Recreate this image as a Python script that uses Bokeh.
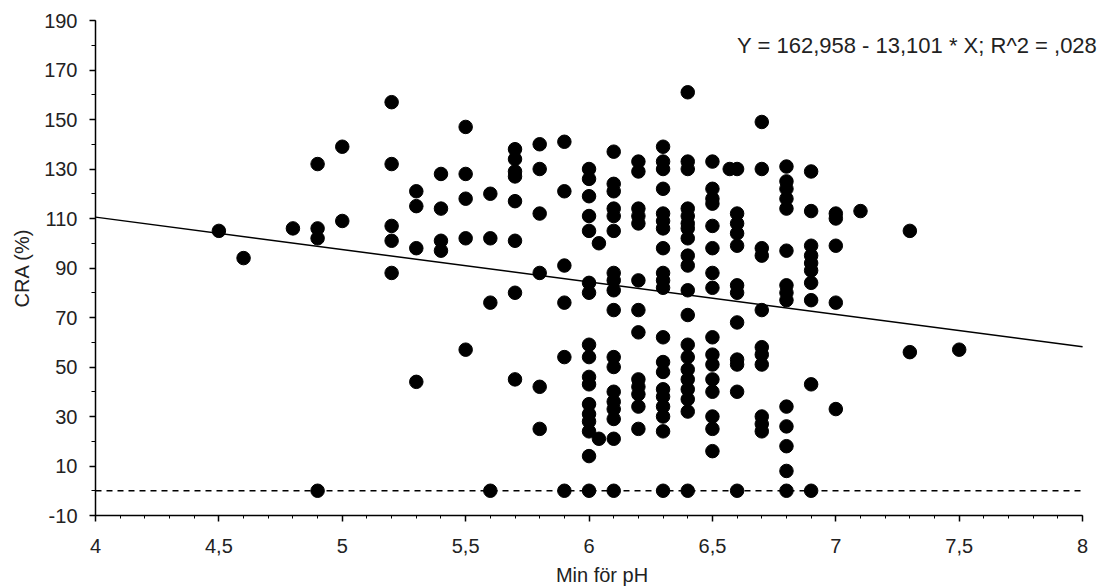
from bokeh.plotting import figure
from bokeh.models import Range1d, FixedTicker, CustomJSTickFormatter, Label, ColumnDataSource
from bokeh.embed import file_html
from bokeh.resources import INLINE

# Minimum pH per sample (x) and CRA in percent (y), grouped by pH level
ph_levels = [4.5, 4.6, 4.8, 4.9, 5.0, 5.2, 5.3, 5.4, 5.5, 5.6, 5.7, 5.8, 5.9,
             6.0, 6.04, 6.1, 6.2, 6.3, 6.4, 6.5, 6.57, 6.6, 6.7, 6.8, 6.9,
             7.0, 7.1, 7.3, 7.5]

cra_at_level = [
    [105],
    [94],
    [106],
    [132, 106, 102, 0],
    [139, 109],
    [157, 132, 107, 101, 88],
    [121, 115, 98, 44],
    [128, 114, 101, 97],
    [147, 128, 118, 102, 57],
    [120, 102, 76, 0],
    [138, 134, 129, 127, 117, 101, 80, 45],
    [140, 130, 112, 88, 42, 25],
    [141, 121, 91, 76, 54, 0],
    [130, 126, 119, 111, 105, 84, 80, 59, 54, 46, 43, 35, 31, 28, 24, 14, 0],
    [100, 21],
    [137, 124, 121, 114, 111, 105, 88, 85, 81, 73, 54, 50, 40, 36, 33, 29, 21, 0],
    [133, 129, 114, 111, 108, 85, 73, 64, 45, 42, 39, 34, 25],
    [139, 133, 130, 122, 112, 109, 106, 98, 88, 85, 82, 62, 52, 48, 41, 38, 34, 30, 24, 0],
    [161, 133, 130, 114, 111, 108, 106, 102, 95, 91, 81, 71, 59, 54, 49, 45, 41, 37, 32, 0],
    [133, 122, 118, 116, 107, 98, 88, 82, 62, 55, 51, 45, 40, 30, 25, 16],
    [130],
    [130, 112, 108, 104, 99, 83, 80, 68, 53, 51, 40, 0],
    [149, 130, 98, 95, 73, 58, 55, 51, 30, 27, 24],
    [131, 125, 122, 118, 114, 97, 83, 80, 77, 34, 26, 18, 8, 0],
    [129, 113, 99, 95, 92, 89, 84, 77, 43, 0],
    [112, 110, 99, 76, 33],
    [113],
    [105, 56],
    [57],
]

# Linear fit reported for the data
intercept = 162.958
slope = -13.101
r_squared = 0.028

zero_level = 0

x_ticks = [4, 4.5, 5, 5.5, 6, 6.5, 7, 7.5, 8]
y_ticks = [-10, 10, 30, 50, 70, 90, 110, 130, 150, 170, 190]

FONT = "Liberation Sans"
TEXT = "#222222"

ph = []
cra = []
for level, values in zip(ph_levels, cra_at_level):
    for v in values:
        ph.append(level)
        cra.append(v)

source = ColumnDataSource(data=dict(ph=ph, cra=cra))

# a little room past pH 8 keeps the equation text inside the frame
p = figure(width=1108, height=588,
           x_range=Range1d(4, 8.105), y_range=Range1d(-10, 190),
           output_backend="svg", toolbar_location=None,
           min_border_left=95, min_border_right=0,
           min_border_top=20, min_border_bottom=71)
p.outline_line_color = None
p.grid.visible = False
p.background_fill_color = "white"
p.border_fill_color = "white"

# reference line at zero
p.line(x=[4, 8], y=[zero_level, zero_level], line_color="black",
       line_width=1.5, line_dash="6 5")

# fitted regression line
fit_x = [4, 8]
fit_y = [intercept + slope * xv for xv in fit_x]
p.line(x=fit_x, y=fit_y, line_color="black", line_width=1.5)

p.scatter(x="ph", y="cra", source=source, marker="circle", size=13.5,
          fill_color="black", line_color="black")

# axes
minor_x = [round(4 + i * 0.1, 1) for i in range(41)]
minor_y = list(range(-10, 191, 10))
p.xaxis.ticker = FixedTicker(ticks=x_ticks, minor_ticks=minor_x)
p.yaxis.ticker = FixedTicker(ticks=y_ticks, minor_ticks=minor_y)
p.xaxis.bounds = (4, 8)
p.xaxis.formatter = CustomJSTickFormatter(code="return tick.toString().replace('.', ',');")
p.yaxis.formatter = CustomJSTickFormatter(code="return tick.toFixed(0);")

for ax in (p.xaxis[0], p.yaxis[0]):
    ax.axis_line_color = "black"
    ax.axis_line_width = 1.5
    ax.major_tick_line_color = "black"
    ax.major_tick_line_width = 1.5
    ax.minor_tick_line_color = "black"
    ax.minor_tick_line_width = 1
    ax.major_tick_in = 0
    ax.minor_tick_in = 0
    ax.major_label_text_font = FONT
    ax.major_label_text_font_size = "20px"
    ax.major_label_text_color = TEXT
    ax.axis_label_text_font = FONT
    ax.axis_label_text_font_size = "20px"
    ax.axis_label_text_font_style = "normal"
    ax.axis_label_text_color = TEXT

p.xaxis.major_tick_out = 6
p.xaxis.minor_tick_out = 3
p.yaxis.major_tick_out = 6
p.yaxis.minor_tick_out = 4
p.xaxis.major_label_standoff = 17
p.yaxis.major_label_standoff = 12
p.xaxis.axis_label = "Min för pH"
p.yaxis.axis_label = "CRA (%)"
p.xaxis.axis_label_standoff = 8
p.yaxis.axis_label_standoff = 8

r2_text = f"{r_squared:.3f}".lstrip("0").replace(".", ",")
eq = (f"Y = {intercept:.3f}".replace(".", ",") + f" - {abs(slope):.3f}".replace(".", ",")
      + f" * X; R^2 = {r2_text}")
p.add_layout(Label(x=6.60, y=180, text=eq, text_font=FONT, text_font_size="22px",
                   text_color=TEXT, text_baseline="middle", text_align="left"))

open("out.html", "w").write(file_html(p, INLINE))
